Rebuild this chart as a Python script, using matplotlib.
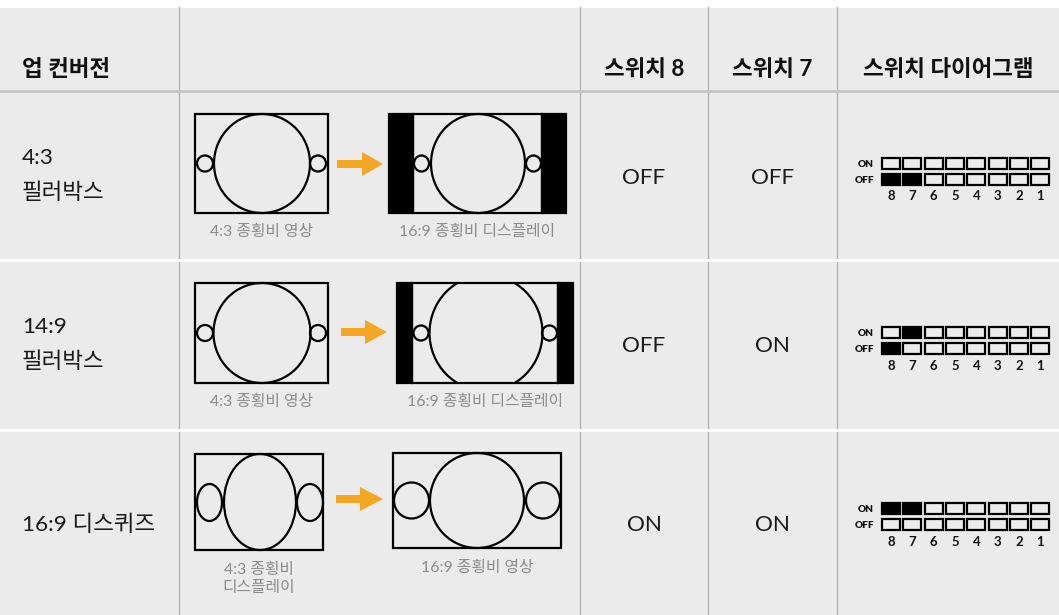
import matplotlib
matplotlib.use("Agg")
import matplotlib.pyplot as plt
from matplotlib.patches import Rectangle, Ellipse, Polygon

# ---------------- data ----------------
headers = ["업 컨버전", "", "스위치 8", "스위치 7", "스위치 다이어그램"]
conversions = ["4:3\n필러박스", "14:9\n필러박스", "16:9 디스퀴즈"]
switch8 = ["OFF", "OFF", "ON"]
switch7 = ["OFF", "ON", "ON"]
source_captions = ["4:3 종횡비 영상", "4:3 종횡비 영상", "4:3 종횡비\n디스플레이"]
target_captions = ["16:9 종횡비 디스플레이", "16:9 종횡비 디스플레이", "16:9 종횡비 영상"]
switch_numbers = [8, 7, 6, 5, 4, 3, 2, 1]

# ---------------- style ----------------
W, H = 1059, 615
BG = "#ebebeb"
VLINE = "#b3b3b3"
HLINE = "#c6c6c6"
ORANGE = "#f5a623"
CAPTION = "#8c8c8c"
FONT = ["Lato", "Noto Sans CJK KR", "DejaVu Sans"]
plt.rcParams["font.family"] = FONT

fig = plt.figure(figsize=(W / 100, H / 100), dpi=100)
ax = fig.add_axes([0, 0, 1, 1])
ax.set_xlim(0, W)
ax.set_ylim(H, 0)
ax.axis("off")
fig.patch.set_facecolor("white")

top = 8
col_x = [0, 179, 580, 708, 837, W]
row_y = [top, 91, 260, 430, H]

ax.add_patch(Rectangle((0, top), W, H - top, facecolor=BG, edgecolor="none", zorder=0))
for x in col_x[1:-1]:
    ax.plot([x, x], [top - 1, H], color=VLINE, lw=1.0, zorder=1)
ax.plot([0, W], [row_y[1], row_y[1]], color=HLINE, lw=2.0, zorder=2)
for y in row_y[2:-1]:
    ax.plot([0, W], [y, y], color="white", lw=2.0, zorder=2)

MAIN_FS = 16.2

# headers
hy = 70
ax.text(22, hy, headers[0], fontsize=MAIN_FS, fontweight="bold", ha="left", va="center", color="#111111")
for i in range(2, 5):
    ax.text((col_x[i] + col_x[i + 1]) / 2, hy, headers[i], fontsize=MAIN_FS, fontweight="bold",
            ha="center", va="center", color="#111111")

row_centers = [(row_y[i] + row_y[i + 1]) / 2 for i in range(1, 4)]

# row labels & switch values
label_y = [[158, 193], [327, 362], [525]]
for r, name in enumerate(conversions):
    lines = name.split("\n")
    for ln, yy in zip(lines, label_y[r]):
        ax.text(22, yy, ln, fontsize=MAIN_FS, ha="left", va="center", color="#1a1a1a")
    vy = [178, 346, 525][r]
    ax.text((col_x[2] + col_x[3]) / 2, vy, switch8[r], fontsize=MAIN_FS, ha="center", va="center", color="#1a1a1a")
    ax.text((col_x[3] + col_x[4]) / 2, vy, switch7[r], fontsize=MAIN_FS, ha="center", va="center", color="#1a1a1a")

LW = 1.6


def arrow(x0, x1, x2, yc):
    pts = [(x0, yc - 4), (x1, yc - 4), (x1, yc - 12), (x2, yc), (x1, yc + 12), (x1, yc + 4), (x0, yc + 4)]
    ax.add_patch(Polygon(pts, closed=True, facecolor=ORANGE, edgecolor="none", zorder=3))


def circ(cx, cy, w, h, clip=None):
    e = Ellipse((cx, cy), w, h, facecolor="none", edgecolor="black", lw=LW, zorder=4)
    ax.add_patch(e)
    if clip is not None:
        e.set_clip_path(clip)


def box(x0, y0, x1, y1):
    ax.add_patch(Rectangle((x0, y0), x1 - x0, y1 - y0, facecolor="none", edgecolor="black", lw=LW, zorder=5))


def bars(x0, xi0, xi1, x1, y0, y1):
    ax.add_patch(Rectangle((x0, y0), xi0 - x0, y1 - y0, facecolor="black", edgecolor="black", lw=LW, zorder=5))
    ax.add_patch(Rectangle((xi1, y0), x1 - xi1, y1 - y0, facecolor="black", edgecolor="black", lw=LW, zorder=5))
    box(xi0, y0, xi1, y1)


# ---- row 1: 4:3 pillarbox ----
y0, y1 = 114, 213
box(195, y0, 328, y1)
circ(262, 163.5, 96, 99)
circ(205, 163.5, 16, 16)
circ(318, 163.5, 16, 16)
arrow(337, 362, 383, 164)
bars(389, 413, 542, 566, y0, y1)
circ(478, 163.5, 94, 99)
circ(421.5, 163.5, 15, 16)
circ(533.5, 163.5, 15, 16)

# ---- row 2: 14:9 pillarbox ----
y0, y1 = 283, 383
box(195, y0, 328, y1)
circ(262, 333, 97, 100)
circ(205, 333, 16, 16)
circ(318, 333, 16, 16)
arrow(341, 365, 387, 332)
bars(397, 412, 558, 573, y0, y1)
clip = Rectangle((412, y0), 146, y1 - y0, transform=ax.transData, facecolor="none", edgecolor="none")
circ(486, 333, 113, 116, clip=clip)
circ(421, 333, 15, 15)
circ(549.5, 333, 15, 15)

# ---- row 3: 16:9 desqueeze ----
box(195, 454, 323, 550)
circ(260, 502, 72, 96)
circ(209.5, 502.5, 25, 37)
circ(310, 502.5, 26, 37)
arrow(336, 360, 383, 499)
box(393, 453, 561, 548)
circ(477, 500.5, 94, 95)
circ(411.5, 500.5, 35, 36)
circ(543, 500.5, 34, 36)

# captions
CAP_FS = 11.4
cap_pos = [((261, 232), (477, 232)), ((261, 402), (485, 402)), ((259, 579), (477, 568))]
for r in range(3):
    (sx, sy), (tx, ty) = cap_pos[r]
    ax.text(sx, sy, source_captions[r], fontsize=CAP_FS, color=CAPTION, ha="center", va="center",
            linespacing=1.35)
    ax.text(tx, ty, target_captions[r], fontsize=CAP_FS, color=CAPTION, ha="center", va="center")

# switch diagrams
bx0, step, bw, bh = 882, 21.35, 18, 11
for r in range(3):
    c = row_centers[r] + (0 if r < 2 else -1.5)
    on_y = c - 12.5
    off_y = c + 3.5
    ax.text(874, c - 8.8, "ON", fontsize=7.2, fontweight="heavy", ha="right", va="baseline", color="#111111")
    ax.text(874, c + 7.2, "OFF", fontsize=7.2, fontweight="heavy", ha="right", va="baseline", color="#111111")
    states = {8: switch8[r], 7: switch7[r]}
    for k, n in enumerate(switch_numbers):
        x = bx0 + k * step
        st = states.get(n)
        for yy, lab in ((on_y, "ON"), (off_y, "OFF")):
            filled = (st == lab)
            ax.add_patch(Rectangle((x, yy - bh / 2), bw, bh, facecolor="black" if filled else "none",
                                   edgecolor="black", lw=1.6, zorder=5))
        ax.text(x + bw / 2, c + 24.5, str(n), fontsize=9.5, fontweight="bold", ha="center", va="baseline",
                color="#111111")

fig.savefig("out.png", dpi=100, facecolor=fig.get_facecolor())
